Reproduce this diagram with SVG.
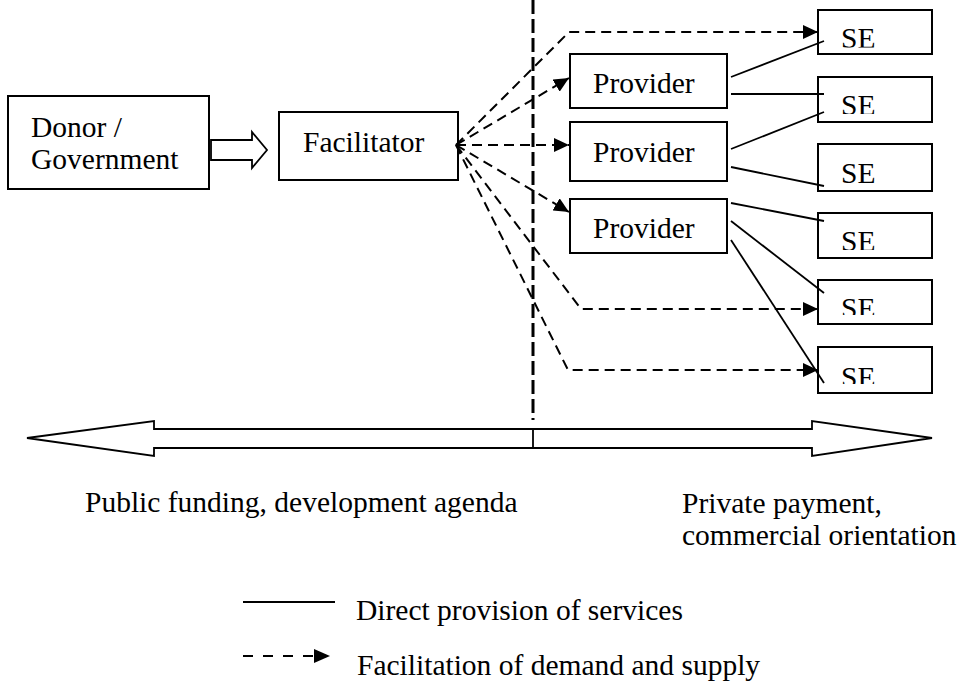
<svg xmlns="http://www.w3.org/2000/svg" width="966" height="685" viewBox="0 0 966 685">
<style>
.box{fill:#fff;stroke:#000;stroke-width:2}
.t{font-family:"Liberation Serif","Times New Roman",serif;font-size:29.5px;fill:#000}
.dash{fill:none;stroke:#000;stroke-width:2;stroke-dasharray:10 6}
.solid{fill:none;stroke:#000;stroke-width:1.8}
.hollow{fill:#fff;stroke:#000;stroke-width:1.8;stroke-linejoin:miter}
</style>
<defs>
<marker id="ah" markerUnits="userSpaceOnUse" markerWidth="16" markerHeight="14" refX="15" refY="7" orient="auto">
<path d="M0,0 L15,7 L0,14 z" fill="#000"/>
</marker>
<clipPath id="cse1"><rect x="818" y="10" width="114" height="37.5"/></clipPath>
<clipPath id="cse2"><rect x="818" y="77" width="114" height="37"/></clipPath>
<clipPath id="cse3"><rect x="818" y="144" width="114" height="39"/></clipPath>
<clipPath id="cse4"><rect x="818" y="213" width="114" height="37"/></clipPath>
<clipPath id="cse5"><rect x="818" y="280" width="114" height="35"/></clipPath>
<clipPath id="cse6"><rect x="818" y="347" width="114" height="37"/></clipPath>
</defs>
<rect width="966" height="685" fill="#fff"/>

<g id="divider">
<line x1="533" y1="0" x2="533" y2="420" stroke="#000" stroke-width="3" stroke-dasharray="14 5"/>
</g>

<g id="donor">
<rect class="box" x="8" y="96" width="201" height="93"/>
<text class="t" x="31" y="137">Donor /</text>
<text class="t" x="31" y="169">Government</text>
</g>

<g id="facilitator">
<rect class="box" x="279" y="112" width="179" height="68"/>
<text class="t" x="303" y="152">Facilitator</text>
</g>

<g id="provider1">
<rect class="box" x="570" y="54" width="157" height="54"/>
<text class="t" x="593" y="93">Provider</text>
</g>
<g id="provider2">
<rect class="box" x="570" y="122" width="157" height="59"/>
<text class="t" x="593" y="162">Provider</text>
</g>
<g id="provider3">
<rect class="box" x="570" y="199" width="157" height="54"/>
<text class="t" x="593" y="238">Provider</text>
</g>

<g id="se1">
<rect class="box" x="818" y="10" width="114" height="44"/>
<text class="t" x="841" y="47.5" clip-path="url(#cse1)">SE</text>
</g>
<g id="se2">
<rect class="box" x="818" y="77" width="114" height="45"/>
<text class="t" x="841" y="114.5" clip-path="url(#cse2)">SE</text>
</g>
<g id="se3">
<rect class="box" x="818" y="144" width="114" height="47"/>
<text class="t" x="841" y="183" clip-path="url(#cse3)">SE</text>
</g>
<g id="se4">
<rect class="box" x="818" y="213" width="114" height="45"/>
<text class="t" x="841" y="250.5" clip-path="url(#cse4)">SE</text>
</g>
<g id="se5">
<rect class="box" x="818" y="280" width="114" height="44"/>
<text class="t" x="841" y="317.5" clip-path="url(#cse5)">SE</text>
</g>
<g id="se6">
<rect class="box" x="818" y="347" width="114" height="46"/>
<text class="t" x="841" y="386.5" clip-path="url(#cse6)">SE</text>
</g>

<g id="connectors">
<polygon class="hollow" points="211,140 252,140 252,132 267,150 252,168 252,160 211,160"/>
<path class="dash" d="M456,145 L569,32 L818,32" marker-end="url(#ah)"/>
<path class="dash" d="M456,145 L569,78" marker-end="url(#ah)"/>
<path class="dash" d="M456,145 L569,145" marker-end="url(#ah)"/>
<path class="dash" d="M456,145 L569,212" marker-end="url(#ah)"/>
<path class="dash" d="M456,145 L581,309 L818,309" marker-end="url(#ah)"/>
<path class="dash" d="M456,145 L568,370 L818,370" marker-end="url(#ah)"/>
<path class="solid" d="M731,77 L824,41"/>
<path class="solid" d="M731,94 L824,94"/>
<path class="solid" d="M731,149 L824,112"/>
<path class="solid" d="M731,167 L824,186"/>
<path class="solid" d="M731,203 L824,221"/>
<path class="solid" d="M731,221 L824,293"/>
<path class="solid" d="M731,240 L824,383"/>
</g>

<g id="spectrum">
<polygon class="hollow" points="27,438 154,421 154,429 812,429 812,421 932,438 812,456 812,448 154,448 154,456"/>
<line x1="533" y1="429" x2="533" y2="448" stroke="#000" stroke-width="1.8"/>
<text class="t" x="85" y="512">Public funding, development agenda</text>
<text class="t" x="682" y="513">Private payment,</text>
<text class="t" x="682" y="545">commercial orientation</text>
</g>

<g id="legend">
<line x1="243" y1="602" x2="335" y2="602" stroke="#000" stroke-width="1.8"/>
<text class="t" x="356" y="620">Direct provision of services</text>
<line x1="243" y1="656" x2="318" y2="656" stroke="#000" stroke-width="1.8" stroke-dasharray="10 10"/>
<path d="M314,649 L330,656 L314,663 z" fill="#000"/>
<text class="t" x="357" y="675">Facilitation of demand and supply</text>
</g>
</svg>
